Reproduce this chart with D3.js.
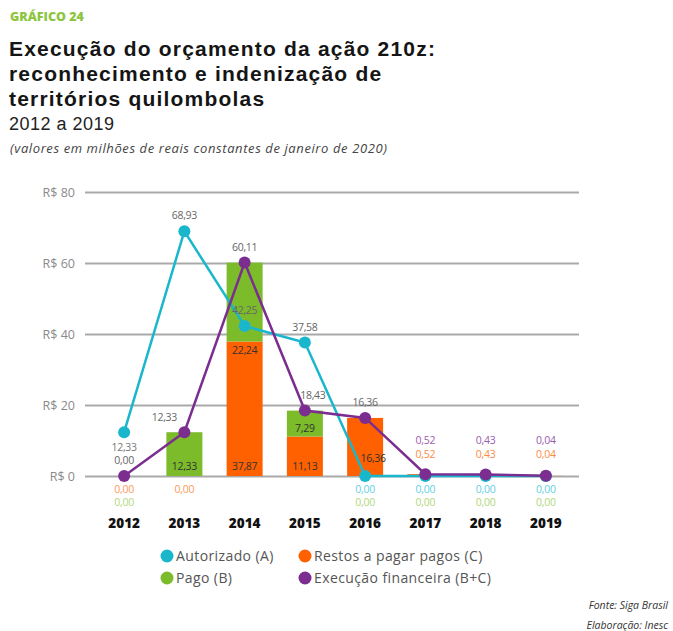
<!DOCTYPE html>
<html>
<head>
<meta charset="utf-8">
<script src="https://cdn.jsdelivr.net/npm/d3@7"></script>
<style>
  body { margin: 0; background: #fff; }
  svg { font-family: 'Open Sans', sans-serif; }
</style>
</head>
<body>
<svg width="673" height="631"></svg>
<script>
const years = ['2012', '2013', '2014', '2015', '2016', '2017', '2018', '2019']
const autorizado = [12.33, 68.93, 42.25, 37.58, 0, 0, 0, 0]
const pago = [0, 12.33, 22.24, 7.29, 0, 0, 0, 0]
const restos = [0, 0, 37.87, 11.13, 16.36, 0.52, 0.43, 0.04]
const execucao = [0, 12.33, 60.11, 18.43, 16.36, 0.52, 0.43, 0.04]
const yTicks = [0, 20, 40, 60, 80]

const cyan = '#1ab7cc', orange = '#ff6000', green = '#7cbb2a', purple = '#7b2d90'
const fmt = v => d3.format('.2f')(v).replace('.', ',')

const svg = d3.select('svg')

// titles
svg.append('text').attr('x', 10).attr('y', 21)
  .style('font-size', '12.5px').style('font-weight', 800).attr('fill', '#8cc63f')
  .text('GRÁFICO 24')
const titleLines = ['Execução do orçamento da ação 210z:', 'reconhecimento e indenização de', 'territórios quilombolas']
svg.selectAll('.title').data(titleLines).enter().append('text')
  .attr('x', 9).attr('y', (d, i) => 56 + i * 25)
  .style('font-family', 'Liberation Sans').style('font-size', '21px')
  .style('font-weight', 700).style('letter-spacing', '1.2px').attr('fill', '#151515')
  .text(d => d)
svg.append('text').attr('x', 9).attr('y', 130)
  .style('font-family', 'Liberation Sans').style('font-size', '18px')
  .style('letter-spacing', '0.5px').attr('fill', '#222').text('2012 a 2019')
svg.append('text').attr('x', 10).attr('y', 153)
  .style('font-size', '13px').style('font-style', 'italic').style('letter-spacing', '0.6px')
  .attr('fill', '#444')
  .text('(valores em milhões de reais constantes de janeiro de 2020)')

// scales
let x = d3.scaleBand().domain(years).range([94, 576]).paddingInner(0.4).paddingOuter(0.2)
let cx = d => x(d) + x.bandwidth() / 2
let y = d3.scaleLinear().domain([0, 80]).range([476, 192])

// grid
let yAxis = d3.axisLeft(y).tickValues(yTicks).tickSize(-(579 - 85))
  .tickFormat(d => 'R$ ' + d)
svg.append('g').attr('transform', 'translate(85,0)').call(yAxis)
  .call(g => g.select('.domain').remove())
  .call(g => g.selectAll('line').attr('stroke', '#a9a9a9').attr('stroke-width', 2))
  .call(g => g.selectAll('text').attr('x', -10).attr('fill', '#8a8a8a')
    .style('font-size', '12.5px').style('font-family', 'Open Sans'))

// x axis labels
let xAxis = d3.axisBottom(x).tickSize(0)
svg.append('g').attr('transform', 'translate(0,515)').call(xAxis)
  .call(g => g.select('.domain').remove())
  .call(g => g.selectAll('text').attr('fill', '#111').style('font-weight', 800)
    .style('font-size', '13.5px').style('font-family', 'Open Sans'))

// stacked bars: restos (C) at bottom, pago (B) on top
const bw = 36
svg.selectAll('.barC').data(years).enter().append('rect')
  .attr('x', d => cx(d) - bw / 2).attr('width', bw)
  .attr('y', (d, i) => y(restos[i])).attr('height', (d, i) => y(0) - y(restos[i]))
  .attr('fill', orange)
svg.selectAll('.barB').data(years).enter().append('rect')
  .attr('x', d => cx(d) - bw / 2).attr('width', bw)
  .attr('y', (d, i) => y(restos[i] + pago[i])).attr('height', (d, i) => y(restos[i]) - y(restos[i] + pago[i]))
  .attr('fill', green)

// lines
function drawLine (vals, color) {
  let line = d3.line().x((d, i) => cx(years[i])).y(d => y(d))
  svg.append('path').datum(vals).attr('d', line)
    .attr('fill', 'none').attr('stroke', color).attr('stroke-width', 2.5)
  svg.selectAll(null).data(vals).enter().append('circle')
    .attr('cx', (d, i) => cx(years[i])).attr('cy', d => y(d)).attr('r', 6)
    .attr('fill', color)
}
drawLine(autorizado, cyan)
drawLine(execucao, purple)

// labels
function label (xp, yp, txt, color) {
  svg.append('text').attr('x', xp).attr('y', yp)
    .attr('text-anchor', 'middle').style('font-size', '10.5px')
    .style('letter-spacing', '-0.3px')
    .attr('fill', color).text(txt)
}
const y0 = y(0)
years.forEach((yr, i) => {
  let xp = cx(yr)
  // autorizado
  if (autorizado[i] === 0) label(xp, y0 + 17, fmt(0), '#5fd0df')
  else if (i === 0) label(xp, y(autorizado[i]) + 19, fmt(autorizado[i]), '#777')
  else label(xp, y(autorizado[i]) - 12, fmt(autorizado[i]), '#666')
  // pago
  if (pago[i] === 0) label(xp, y0 + 30, fmt(0), '#b2d77c')
  else if (restos[i] === 0) label(xp, y0 - 6, fmt(pago[i]), '#333')
  else label(xp, y(restos[i]) + (i === 2 ? 12 : -4), fmt(pago[i]), '#333')
  // restos
  if (restos[i] === 0) label(xp, y0 + 17, fmt(0), '#fb9a5e')
  else if (restos[i] < 1) label(xp, y0 - 18, fmt(restos[i]), '#fb8b45')
  else label(xp + (i === 4 ? 8 : 0), y0 - 14 + (i === 4 ? 0 : 8), fmt(restos[i]), '#333')
  // execucao
  if (execucao[i] < 1 && i > 0) label(xp, y0 - 32, fmt(execucao[i]), '#9a5cb0')
  else if (i === 1) label(xp - 20, y(execucao[i]) - 11, fmt(execucao[i]), '#666')
  else label(xp + (i === 3 ? 8 : 0), y(execucao[i]) - 12, fmt(execucao[i]), '#666')
})

// legend
const legend = [
  { name: 'Autorizado (A)', color: cyan, col: 0, row: 0 },
  { name: 'Restos a pagar pagos (C)', color: orange, col: 1, row: 0 },
  { name: 'Pago (B)', color: green, col: 0, row: 1 },
  { name: 'Execução financeira (B+C)', color: purple, col: 1, row: 1 }
]
let lg = svg.selectAll('.lg').data(legend).enter().append('g')
  .attr('transform', d => `translate(${167 + d.col * 138}, ${556 + d.row * 22})`)
lg.append('circle').attr('r', 6.5).attr('fill', d => d.color)
lg.append('text').attr('x', 9).attr('dy', '0.35em')
  .style('font-size', '14px').style('letter-spacing', '0.4px')
  .attr('fill', '#555').text(d => d.name)

// source
svg.append('text').attr('x', 668).attr('y', 609).attr('text-anchor', 'end')
  .style('font-size', '10.5px').style('font-style', 'italic').attr('fill', '#333')
  .text('Fonte: Siga Brasil')
svg.append('text').attr('x', 668).attr('y', 629).attr('text-anchor', 'end')
  .style('font-size', '10.5px').style('font-style', 'italic').attr('fill', '#333')
  .text('Elaboração: Inesc')
</script>
</body>
</html>
